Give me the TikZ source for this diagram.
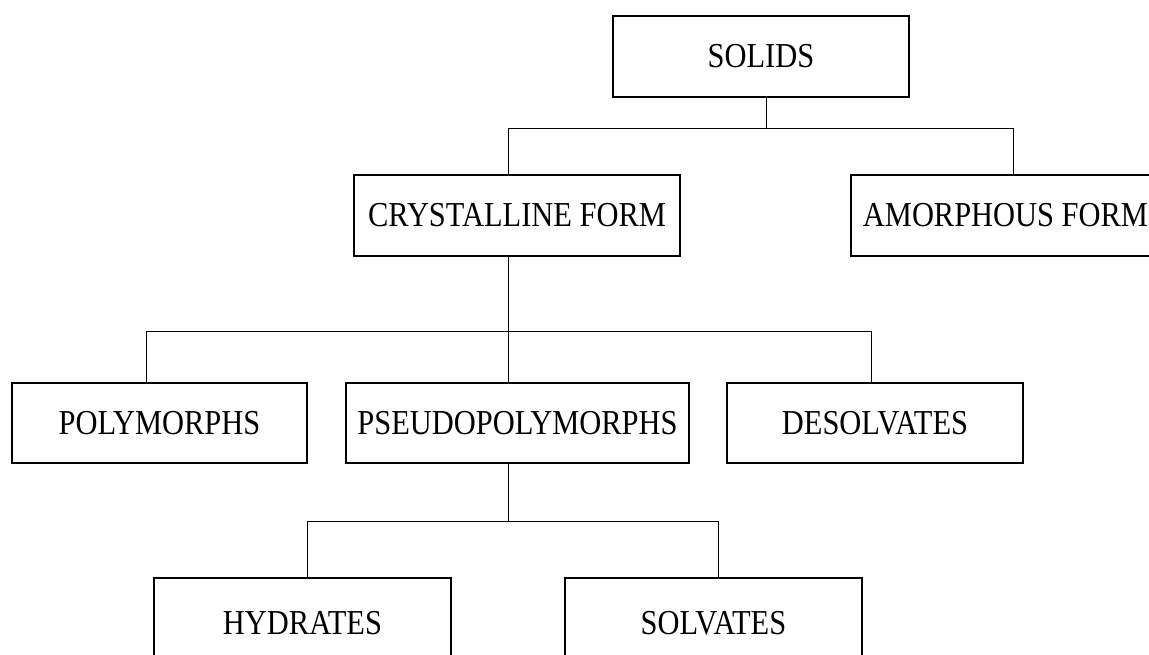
\documentclass[tikz,border=0pt]{standalone}
\usepackage{fontspec}
\setmainfont{Liberation Serif}[FakeStretch=0.87]
\usepackage{tikz}
\usetikzlibrary{positioning}

\begin{document}
\begin{tikzpicture}[x=1pt, y=-1pt,
    box/.style={draw, line width=2pt, minimum height=81pt, inner sep=0pt,
                font=\fontsize{35}{42}\selectfont},
    link/.style={line width=1pt}]
    \useasboundingbox (0,0) rectangle (1149,654);
    \clip (0,0) rectangle (1149,654);
    \node[box, minimum width=296pt] (solids) at (761, 56.5)  {SOLIDS};
    \node[box, minimum width=326pt] (cryst)  at (517, 215.5) {CRYSTALLINE FORM};
    \node[box, minimum width=309pt] (amorph) at (1005.5, 215.5) {AMORPHOUS FORM};
    \node[box, minimum width=295pt, minimum height=80pt] (poly)   at (159.5, 423) {POLYMORPHS};
    \node[box, minimum width=343pt, minimum height=80pt] (pseudo) at (517.5, 423) {PSEUDOPOLYMORPHS};
    \node[box, minimum width=296pt, minimum height=80pt] (desolv) at (875, 423)   {DESOLVATES};
    \node[box, minimum width=297pt, minimum height=90pt] (hydr)   at (302.5, 623) {HYDRATES};
    \node[box, minimum width=297pt, minimum height=90pt] (solv)   at (713.5, 623) {SOLVATES};
    \coordinate (b1l) at (508, 128);
    \coordinate (b1m) at (766, 128);
    \coordinate (b1r) at (1013, 128);
    \coordinate (b2l) at (146, 331);
    \coordinate (b2m) at (508, 331);
    \coordinate (b2r) at (871, 331);
    \coordinate (b3l) at (307, 521);
    \coordinate (b3m) at (508, 521);
    \coordinate (b3r) at (718, 521);
    \draw[link] (solids.south -| b1m) -- (b1m);
    \draw[link] (cryst.north -| b1l) -- (b1l) -- (b1r) -- (amorph.north -| b1r);
    \draw[link] (cryst.south -| b2m) -- (pseudo.north -| b2m);
    \draw[link] (poly.north -| b2l) -- (b2l) -- (b2r) -- (desolv.north -| b2r);
    \draw[link] (pseudo.south -| b3m) -- (b3m);
    \draw[link] (hydr.north -| b3l) -- (b3l) -- (b3r) -- (solv.north -| b3r);
\end{tikzpicture}
\end{document}
